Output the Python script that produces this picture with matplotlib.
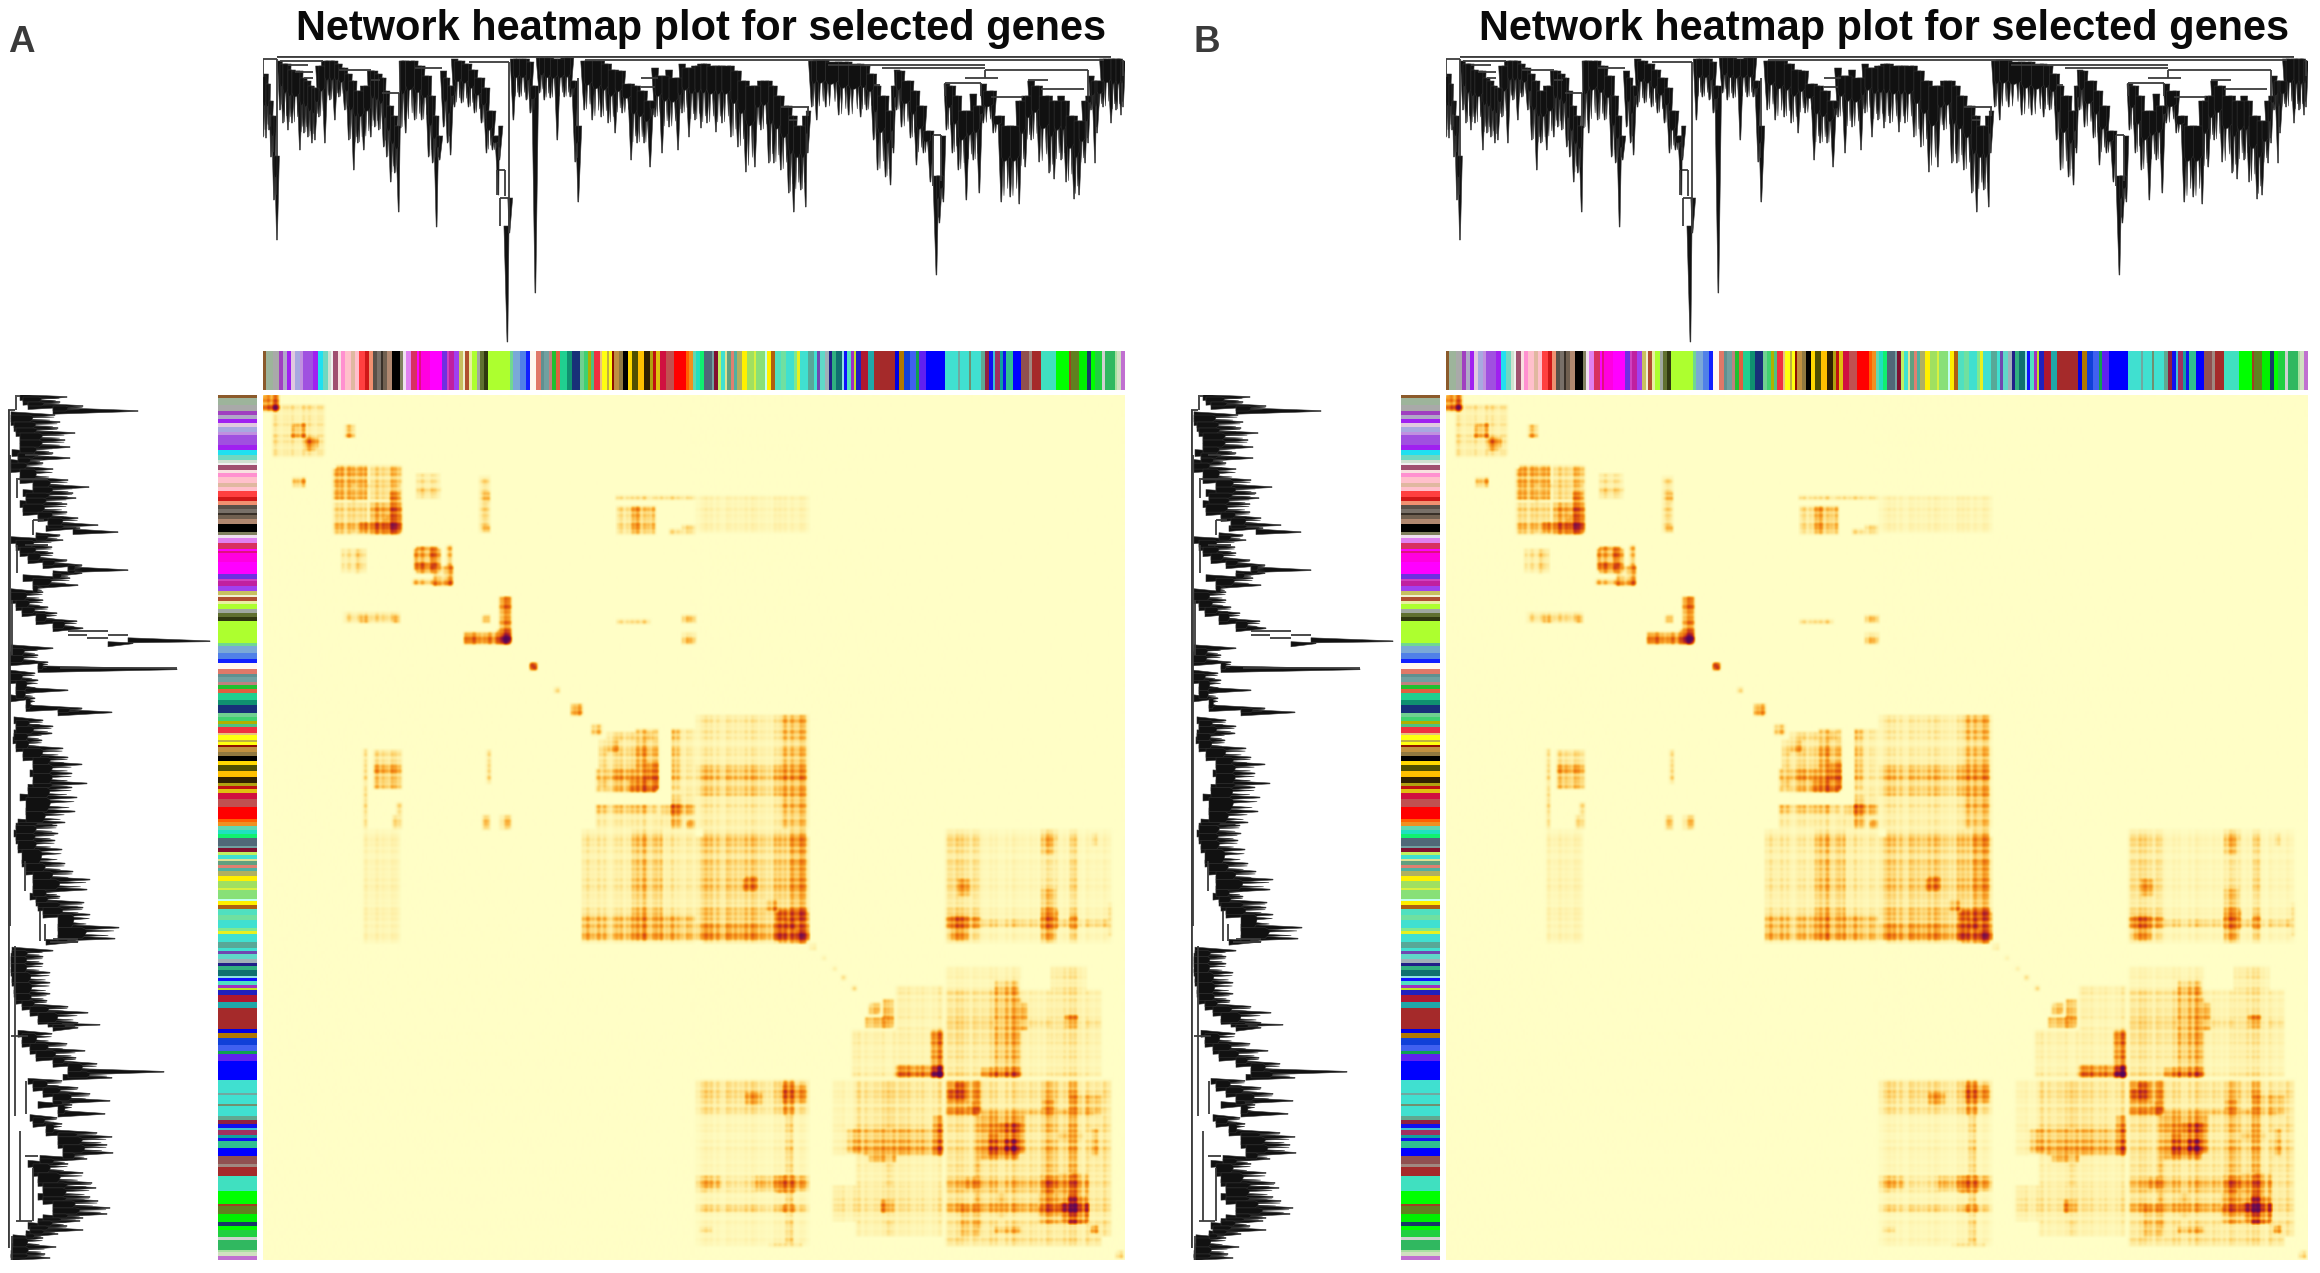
import numpy as np
import matplotlib
matplotlib.use("Agg")
import matplotlib.pyplot as plt
from matplotlib.colors import LinearSegmentedColormap, ListedColormap
from matplotlib.collections import PolyCollection, LineCollection

TITLE = "Network heatmap plot for selected genes"
PANELS = ["A", "B"]

# ---- module colours along the gene order (edges are gene ranks, 0..864)
module_edges = [0,3,10,16,20,24,28,32,37,40,50,55,60,65,68,70,75,78,82,88,92,96,102,106,110,114,118,120,124,129,137,140,143,148,154,156,158,167,179,184,186,191,196,200,202,206,209,214,218,222,226,248,251,258,264,268,274,279,282,287,290,294,298,305,310,318,322,326,329,332,338,340,345,347,350,352,357,361,366,370,376,382,388,391,394,398,404,412,424,427,431,434,438,442,450,452,456,459,463,465,469,472,475,480,485,492,494,503,505,509,513,519,524,532,535,538,546,552,555,558,563,567,570,574,580,582,585,589,592,594,599,606,612,633,637,642,649,655,658,665,684,697,699,708,710,720,724,728,732,734,739,742,745,752,760,768,771,780,795,808,810,818,826,830,834,841,844,854,856,860,864]
module_colors = ['#8B5A2B','#9DB49B','#A9A9A9','#A040C0','#B0A8C8','#A020F0','#E0C8E0','#A8A8E0','#C090E0','#A050E0','#A020F0','#20E0F0','#70D8C0','#D0E0D0','#F0F0F0','#A05070','#F8E0E0','#FF90D0','#FFC0CB','#E0B8A0','#FFC0CB','#FF4040','#D01818','#F09070','#585048','#787068','#383028','#706050','#B08870','#000000','#808060','#F0E0F0','#E080F0','#D83060','#FF00FF','#E01080','#FF00E0','#FF00FF','#7030E0','#D040C0','#C020A0','#A040F0','#C8C060','#F0F0D0','#B05030','#E8F0A0','#ADFF2F','#A0A8A0','#607030','#303810','#ADFF2F','#70D890','#7AA8D8','#5080E8','#1020FF','#FFF8F0','#E07868','#609090','#70A0A0','#C08080','#20C030','#E06040','#20D090','#109070','#183078','#70D090','#40D070','#B0B000','#50C080','#F03040','#E8C080','#FFFF10','#C0B040','#FFFF10','#901000','#C09040','#907840','#000000','#FFD800','#505000','#FFC000','#302000','#B0A010','#C01010','#E0C010','#D01040','#C05050','#FF0000','#FF6000','#F09020','#60D8B0','#20E0C0','#10F070','#506878','#70A0A0','#801030','#C0F060','#40E0D0','#E0E090','#60A080','#E08070','#50B0A0','#B0B060','#FFF000','#A0E060','#D8F040','#88E078','#C0FFF0','#FFF000','#B06010','#50E0C0','#70E0A0','#40E0D0','#80E890','#E8F020','#40E0D0','#58A898','#40E0D0','#7048B0','#60D8C8','#A0B0B8','#202088','#30B080','#107070','#90E0E0','#1010FF','#50E0C0','#A030C0','#C0E020','#2020C0','#B01830','#20A8A8','#A52A2A','#0000E0','#B07800','#1040D8','#4060F0','#10A050','#6020F0','#0000FF','#40E0D0','#70A8A0','#40E0D0','#709070','#40E0D0','#60A890','#902040','#1010F0','#40C0D0','#A03060','#10A0A0','#1010F0','#30C090','#0000FF','#905050','#A08880','#A52A2A','#40E0C0','#00FF00','#A04020','#608020','#00F000','#183868','#00FF00','#20D040','#D0D0D0','#30B860','#A8E0A0','#D0E0C0','#C070D0']

# ---- top dendrogram: gene rank, depth where the branch mass starts, depth of tip
top_gene = [0,3,6,8,11,14, 17,20,25,29,37,41,45,49,52,56,62, 67,72,76,82,86,91,95,101, 108,112,116,121,124,128,132,136, 138,143, 152,159,166,170,174,177,181,185,188, 192,199,206,212,219,224,230,236,237,245,247, 251,257,264,268,273, 277,282,288,295,302,308,313,316, 322,330,339,346,353,360,369,375,382,388, 393,400,407,416,420,427,433, 439,445,454, 460,469,476,484,493, 499,507,512,519,527,532,539,544,546, 550,555,564,577,587,599,605,612,616,624,629,632, 635,640,649,655,662,669,675,678,682, 685,691,697,705,712,718, 722,732,740,749,758, 764,770,778,788,793,800,805,813,818,824,827, 830,834,836, 842,850,855,860,862]
top_start = [20,18,28,45,60,100, 5,8,8,14,15,22,25,30,32,10,5, 5,5,8,12,18,25,35,30, 15,15,18,22,35,50,60,70, 5,5, 5,10,20,40,60,80,15,22,30, 3,5,8,14,22,32,55,80,70,170,142, 3,3,3,6,30, 2,2,2,3,2,2,25,70, 5,5,5,8,14,15,28,30,35,45, 12,20,14,22,8,12,10, 8,8,10, 10,10,15,25,30, 25,25,30,40,50,60,70,60,55, 5,4,4,6,6,8,10,18,30,40,55,30, 14,15,25,35,50,75,120,120,80, 28,30,40,55,38,50, 28,35,60,70,45, 40,25,30,40,45,40,45,60,65,45,40, 20,25,25, 3,3,3,3,5]
top_tip = [81,82,74,101,144,184, 54,67,74,67,94,77,81,87,84,61,87, 44,64,41,54,84,114,87,94, 81,71,74,91,101,126,117,156, 72,77, 64,64,101,107,171,104,71,87,99, 51,47,51,57,67,97,94,139,104,286,177, 64,41,44,57,237, 37,44,42,84,41,41,106,146, 54,64,61,67,77,57,104,87,87,111, 61,97,71,94,57,81,64, 72,67,76, 67,81,91,116,111, 74,107,107,114,137,156,134,151,97, 51,64,51,59,59,61,54,84,114,121,129,97, 54,71,82,109,97,126,219,167,146, 74,97,114,144,104,137, 67,77,146,141,148, 111,84,106,117,123,104,126,143,139,107,87, 54,107,77, 51,67,54,59,51]

# top dendrogram links: horizontal (gene0, gene1, depth) and vertical (gene, depth0, depth1)
top_links_h = [(14,850,0),(14,850,1),(0,14,3),(17,60,5),(25,45,9),(32,50,16),(41,50,22),(76,108,14),(108,117,24),(119,136,37),(152,179,12),(206,247,6),(323,843,4),(379,396,22),(379,393,31),(566,724,9),(620,724,12),(724,827,14),(704,737,22),(684,720,27),(730,762,41),(767,787,24),(780,823,33),(519,547,51),(527,535,64),(612,618,29),(672,680,79),(237,243,114),(238,247,142)]
top_links_v = [(0,3,21),(14,3,100),(136,37,70),(247,6,142),(235,114,139),(243,114,140),(238,142,170),(247,142,177),(316,22,70),(684,27,40),(720,27,40),(724,14,22),(827,14,40),(862,4,20),(546,51,60),(672,79,130),(680,79,125)]

# ---- left dendrogram: gene rank, start and tip depth from the root
left_gene = [2,7,11,16, 20,27,33,38,45,52,58,63,68,74, 85,92,98,103, 109,117,123,130,133,137,140, 145,152,158,165,170,175,178,183,190, 197,205,212,218,226,233,246,248, 253,260,267,274, 278,285,295,303,313,317, 325,331,338,345,353, 362,369,378,388,392, 402,416,427,430,438, 445,454,468,476,484,494, 501,507,512,519,532,543,546, 555,561,568,577,587,598,605,611,617,627,629,632, 638,648,655,662,668,676,682, 685,692,698,705,709,718, 722,728,737,741,749,757,763, 768,777,787,792,801,805,812,818,822,825, 830,834,838, 842,851,858,862]
left_start = [12,15,20,45, 3,3,6,8,12,12,4,10,3,3, 12,25,15,18, 12,15,30,40,38,65,28, 3,8,12,20,35,60,45,15,25, 3,3,8,14,28,45,120,100, 3,2,2,30, 2,2,8,3,18,50, 6,8,6,5,8, 15,25,22,25,20, 12,18,10,8,6, 8,10,14,18,25,25, 22,28,30,35,50,50,38, 4,3,3,3,4,6,8,14,22,30,40,45, 10,14,22,28,45,60,55, 20,25,35,45,30,50, 22,25,38,50,50,55,32, 20,25,30,35,30,35,45,45,35,30, 20,22,18, 5,4,3,3]
left_tip = [59,52,75,130, 47,52,50,67,57,62,45,62,35,45, 60,81,65,68, 59,59,70,90,72,110,52, 55,44,45,59,74,120,74,62,70, 35,35,40,49,69,75,202,125, 45,30,40,169, 27,30,60,27,74,104, 35,45,44,34,55, 60,74,64,79,64, 69,67,57,49,50, 47,54,57,65,82,79, 52,76,75,82,111,107,70, 45,35,35,42,42,42,39,60,80,70,92,70, 44,59,77,68,89,156,104, 54,70,82,102,64,97, 49,54,89,104,99,105,79, 60,75,84,88,82,90,102,99,75,72, 59,75,50, 35,48,37,42]

# left dendrogram links: (depth0, depth1, gene) and (depth, gene0, gene1)
left_links_h = [(0,7,15),(60,79,236),(79,100,236),(79,100,243),(60,79,240),(52,169,273),(100,120,240),(17,30,60),(8,40,84),(25,36,125),(17,40,150),(42,70,546),(45,70,543),(7,12,1),(3,20,640),(17,30,760),(8,24,825)]
left_links_v = [(0,15,852),(1,15,852),(2,60,530),(8,2,15),(9,85,103),(25,125,140),(9,150,178),(4,205,260),(17,465,495),(32,515,545),(37,528,545),(7,550,720),(18,685,718),(12,735,825),(25,772,825),(4,840,864)]

# ---- topological overlap heat blocks (col0, col1, row0, row1, value)
tom_blocks = [
 (0,15,1,16,.45),(7,15,9,16,.35),(29,42,31,42,.3),(42,55,42,54,.35),(10,62,10,60,.08),(30,42,82,92,.28),
 (70,104,74,104,.25),(90,94,74,137,.2),(70,137,89,92,.25),(107,139,107,137,.3),(127,139,71,137,.2),(97,137,127,137,.3),(124,139,121,137,.2),(70,104,107,137,.12),
 (154,177,79,103,.1),(154,178,92,96,.2),(217,227,81,137,.08),(220,227,97,107,.2),(220,227,131,137,.25),
 (355,393,111,139,.12),(370,378,111,139,.2),(384,393,111,139,.2),(355,433,101,104,.1),(407,433,134,139,.15),
 (152,178,154,176,.3),(167,177,154,177,.3),(155,190,171,177,.2),(180,190,171,189,.3),(150,188,184,189,.2),
 (237,247,202,249,.4),(202,247,237,249,.45),(235,247,235,249,.45),(220,227,221,227,.35),(239,245,239,247,.9),
 (355,388,224,228,.12),(420,433,222,226,.35),(420,433,243,249,.25),(83,137,219,226,.2),
 (269,275,268,275,.6),(271,274,271,274,.9),(292,297,292,297,.2),(309,320,309,319,.5),(330,340,329,339,.2),
 (337,397,344,394,.14),(345,355,346,356,.3),(384,396,367,394,.3),(367,396,384,394,.3),(374,396,334,394,.15),(337,397,384,391,.2),
 (410,433,334,433,.08),(410,418,334,394,.12),(400,433,410,420,.2),(410,418,410,420,.3),(425,433,426,433,.3),
 (100,104,354,433,.1),(130,137,420,433,.15),(220,227,420,434,.2),(237,247,420,434,.12),
 (320,433,434,547,.07),(320,433,520,545,.16),(370,400,434,545,.12),(100,137,434,547,.04),
 (434,547,441,546,.16),(484,495,481,494,.25),(504,515,504,514,.3),(514,547,517,546,.35),(524,534,524,534,.3),(534,547,534,544,.3),(434,547,527,544,.18),
 (684,720,434,547,.12),(684,720,522,532,.3),(697,710,484,500,.2),(690,707,520,546,.2),
 (780,797,514,534,.3),(780,797,434,444,.12),(720,850,524,531,.15),(720,850,434,547,.03),(780,797,444,514,.06),
 (624,632,604,631,.3),(604,632,622,631,.35),(609,619,607,617,.25),
 (672,682,634,681,.35),(634,682,669,681,.4),(670,682,669,681,.5),(674,680,672,680,.5),(634,682,590,681,.05),
 (684,760,594,681,.1),(735,760,601,681,.15),(720,760,672,681,.25),(684,840,624,631,.15),(760,840,594,681,.05),
 (684,840,684,850,.1),(684,720,684,717,.25),(694,705,687,704,.3),(710,720,707,717,.35),(720,764,717,757,.25),(737,760,727,757,.3),(744,755,744,755,.4),(717,720,684,834,.2),(684,840,714,717,.2),
 (584,682,734,757,.2),(674,682,724,757,.3),(607,634,759,766,.3),(570,682,684,760,.04),
 (434,460,780,794,.2),(494,547,780,795,.25),(520,534,780,795,.3),(434,547,684,840,.03),
 (780,827,777,825,.15),(784,797,781,794,.3),(800,827,807,825,.35),(810,819,777,825,.25),(780,827,809,815,.25),(820,827,817,825,.3),(684,827,781,797,.12),(704,720,781,794,.25),(737,744,797,824,.2),(684,827,807,817,.12),
 (830,837,831,837,.45),(855,862,856,862,.15),(734,760,831,837,.22),(620,632,804,817,.25),(700,720,809,841,.15),(434,547,809,816,.08),(520,534,809,816,.2),(437,450,831,836,.1),(507,540,847,851,.12),(570,682,790,825,.08),
 (560,564,560,564,.08),(570,575,570,575,.08),(580,585,580,585,.08),(590,595,590,595,.1),(548,554,548,554,.1),
]

# plaid weights for every 8 ranks along the gene order, and a finer grain for every 2 ranks
gene_weight = [1.0,1.2,.8,1.1,.7,1.3,.9,1.1,.6,1.2,1.0,.7,1.3,.8,1.1,.9,1.2,.7,1.0,1.3,.8,1.1,.6,1.2,.9,1.0,1.3,.7,1.1,.8,1.2,1.0,.6,1.3,.9,1.1,.8,1.2,.7,1.0,1.3,.9,1.1,.6,1.2,.8,1.0,1.3,.7,1.1,.9,1.2,.8,1.0,.6,1.3,1.1,.7,1.2,.9,1.0,1.3,.8,.6,1.2,1.1,.9,1.3,.7,1.0,1.2,.8,1.1,.6,1.3,.9,1.0,1.2,.7,1.1,1.3,.8,1.0,.6,1.2,.9,1.1,1.3,.7,1.0,.8,1.2,.6,1.1,1.3,.9,1.0,.7,1.2,.8,1.1,1.3,.6,1.0,.9,1.2,.7,1.1]
fine_weight = [1.3,.5,1.5,.9,.3,1.2,1.6,.6,1.0,.4,1.4,.8,1.1,.3,1.5,1.0,.6,1.3,.5,1.2,1.6,.4,.9,1.4,.7,1.1,.3,1.5,.8,1.2,.5,1.4,1.0,.4,1.6,.7,1.1]

heat_levels = ['#FFFEC6','#FEEFA6','#FDD36E','#F9A72F','#EE7D12','#D84E10','#B02028','#6A0A50','#3A0060']

W, H = 2320, 1273
DX = 1183

tom = np.zeros((864, 864))
for c0, c1, r0, r1, v in tom_blocks:
    tom[r0:r1, c0:c1] += v
w = np.repeat(np.array(gene_weight), 8)[:864] * np.repeat(np.resize(fine_weight, 432), 2)
tom = tom * np.outer(w, w)
tom = np.maximum(tom, tom.T)
kernel = np.array([1, 2, 3, 2, 1]) / 9
for axis in (0, 1):
    tom = np.apply_along_axis(lambda v: np.convolve(v, kernel, mode='same'), axis, tom)
tom = .95 * (1 - np.exp(-1.3 * np.clip(tom, 0, None) ** .85))
heat = LinearSegmentedColormap.from_list('tom', heat_levels)

mod_cmap = ListedColormap(module_colors)
edges = np.array(module_edges)


def axes_px(x0, y0, x1, y1):
    ax = fig.add_axes([x0 / W, 1 - y1 / H, (x1 - x0) / W, (y1 - y0) / H])
    ax.set_axis_off()
    return ax


def wedges(pos, start, tip, horizontal):
    pos = np.array(pos, float)
    gaps = np.diff(pos)
    left = np.r_[3, gaps]
    right = np.r_[gaps, 3]
    polys = []
    for p, s, t, a, b in zip(pos, start, tip, left, right):
        wa, wb = min(3.5, a * .8), min(3.5, b * .8)
        polys.append([(p - wa, s), (p + wb, s), (p + .4, t), (p - .4, t)])
    # branch mass between neighbouring tips, with a comb edge
    for i in range(len(pos) - 1):
        s = max(start[i], start[i + 1])
        lim = min(tip[i], tip[i + 1])
        if lim - s < 8:
            continue
        x0, x1 = pos[i], pos[i + 1]
        d = x1 - x0
        polys.append([(x0, s), (x1, s), (x1, s + .42 * (lim - s)), (x0 + .8 * d, s + .46 * (lim - s)),
                      (x0 + .72 * d, s + .88 * (lim - s)), (x0 + .62 * d, s + .48 * (lim - s)),
                      (x0 + .4 * d, s + .5 * (lim - s)), (x0 + .3 * d, s + .98 * (lim - s)),
                      (x0 + .2 * d, s + .5 * (lim - s)), (x0, s + .42 * (lim - s))])
    if horizontal:
        polys = [[(y, x) for x, y in p] for p in polys]
    return polys


def draw_panel(dx, label):
    fig.text((701 + dx) / W, 1 - 29 / H, TITLE, ha='center', va='center', fontsize=29.9,
             fontweight='bold', family='Liberation Sans', color='#0a0a0a')
    fig.text((8 + dx + (3 if label == 'B' else 0)) / W, 1 - 42 / H, label, ha='left', va='center', fontsize=26.5,
             fontweight='bold', family='Liberation Sans', color='#3a3a3a')

    # heatmap
    ax = axes_px(263 + dx, 395, 1125 + dx, 1260)
    ax.imshow(tom, cmap=heat, vmin=0, vmax=1, aspect='auto', interpolation='bilinear',
              extent=(0, 864, 864, 0))

    # module bars
    ids = np.arange(len(module_colors))[None, :]
    ax = axes_px(263 + dx, 351, 1125 + dx, 390)
    ax.pcolormesh(edges, [0, 1], ids, cmap=mod_cmap, vmin=-.5, vmax=len(module_colors) - .5)
    ax.set_xlim(0, 864)
    ax = axes_px(218 + dx, 395, 257 + dx, 1260)
    ax.pcolormesh([0, 1], edges, ids.T, cmap=mod_cmap, vmin=-.5, vmax=len(module_colors) - .5)
    ax.set_ylim(864, 0)

    # top dendrogram
    ax = axes_px(263 + dx, 56, 1125 + dx, 346)
    ax.set_xlim(0, 864)
    ax.set_ylim(290, 0)
    ax.add_collection(PolyCollection(wedges(top_gene, top_start, top_tip, False),
                                     facecolor='#111111', edgecolor='#333333', linewidth=.4))
    segs = [[(a, d), (b, d)] for a, b, d in top_links_h] + [[(g, a), (g, b)] for g, a, b in top_links_v]
    ax.add_collection(LineCollection(segs, colors='#3c3c3c', linewidths=1.3))

    # left dendrogram
    ax = axes_px(8 + dx, 395, 218 + dx, 1260)
    ax.set_xlim(0, 210)
    ax.set_ylim(864, 0)
    ax.add_collection(PolyCollection(wedges(left_gene, left_start, left_tip, True),
                                     facecolor='#111111', edgecolor='#333333', linewidth=.4))
    segs = [[(a, g), (b, g)] for a, b, g in left_links_h] + [[(d, a), (d, b)] for d, a, b in left_links_v]
    ax.add_collection(LineCollection(segs, colors='#3c3c3c', linewidths=1.3))


fig = plt.figure(figsize=(W / 100, H / 100), dpi=100, facecolor='white')
for i, name in enumerate(PANELS):
    draw_panel(i * DX, name)
fig.savefig('out.png', dpi=100, facecolor='white')
